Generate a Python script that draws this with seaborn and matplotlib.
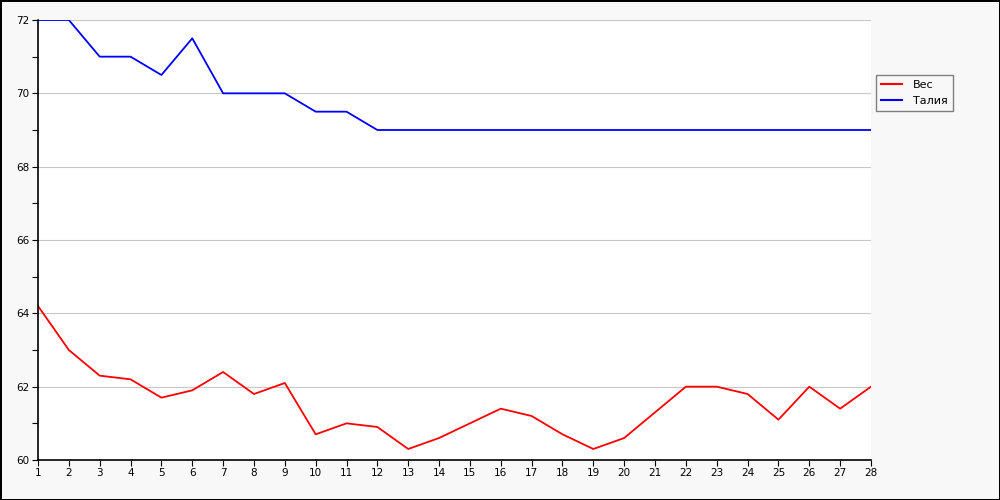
"""
Weight and waist by day.
"""

import numpy as np
import pandas as pd

import matplotlib
matplotlib.use('Agg')
import matplotlib.pyplot as plt
import seaborn as sea
from matplotlib.ticker import MultipleLocator

days = list(range(1, 29))
weight = [64.2, 63.0, 62.3, 62.2, 61.7, 61.9, 62.4, 61.8, 62.1, 60.7,
          61.0, 60.9, 60.3, 60.6, 61.0, 61.4, 61.2, 60.7, 60.3, 60.6,
          61.3, 62.0, 62.0, 61.8, 61.1, 62.0, 61.4, 62.0]
waist = [72, 72, 71, 71, 70.5, 71.5, 70, 70, 70, 69.5,
         69.5, 69, 69, 69, 69, 69, 69, 69, 69, 69,
         69, 69, 69, 69, 69, 69, 69, 69]
names = ['Вес', 'Талия']

df = pd.DataFrame({
    'day': days * 2,
    'value': weight + waist,
    'series': [names[0]] * len(days) + [names[1]] * len(days),
})

palette = {names[0]: '#ff0000', names[1]: '#0000ff'}

fig = plt.figure(figsize=(10, 5), dpi=100, facecolor='#f8f8f8',
                 edgecolor='black', linewidth=0.8)
ax = fig.add_axes([0.038, 0.08, 0.833, 0.88])
ax.set_facecolor('white')

sea.lineplot(data=df, x='day', y='value', hue='series', palette=palette,
             linewidth=1.3, ax=ax, legend=False)

ax.set_xlim(1, 28)
ax.set_ylim(60, 72)
ax.set_xticks(days)
ax.yaxis.set_major_locator(MultipleLocator(2))
ax.yaxis.set_minor_locator(MultipleLocator(1))
ax.grid(axis='y', which='major', color='#c8c8c8', linewidth=0.8)
ax.set_axisbelow(True)
ax.tick_params(axis='both', labelsize=7.5, length=4, width=0.8, pad=2)
ax.tick_params(axis='y', which='minor', length=4, width=0.8)
ax.set_xlabel('')
ax.set_ylabel('')
for s in ['top', 'right']:
    ax.spines[s].set_visible(False)
for s in ['left', 'bottom']:
    ax.spines[s].set_linewidth(1.2)

handles = [plt.Line2D([], [], color=palette[n], linewidth=1.5) for n in names]
fig.legend(handles=handles, labels=names, loc='upper left',
           bbox_to_anchor=(0.876, 0.85), borderaxespad=0, fontsize=8,
           frameon=True, fancybox=False, edgecolor='#808080',
           facecolor='#f8f8f8', framealpha=1, handlelength=1.9,
           handletextpad=1.0, borderpad=0.45, labelspacing=0.55)

plt.savefig('out.png', facecolor=fig.get_facecolor(), edgecolor='black')
plt.close()
